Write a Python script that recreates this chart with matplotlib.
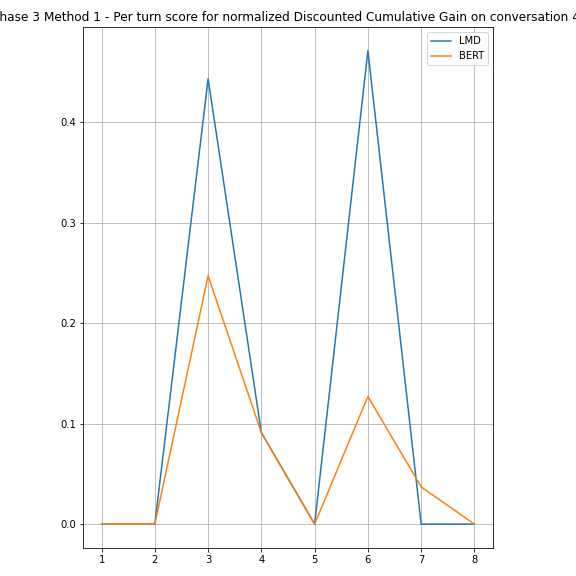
"""Per turn nDCG scores for conversation 4, LMD vs BERT."""
import matplotlib.pyplot as plt

turns = [1, 2, 3, 4, 5, 6, 7, 8]
lmd_scores = [0.0, 0.0, 0.443, 0.091, 0.0, 0.471, 0.0, 0.0]
bert_scores = [0.0, 0.0, 0.247, 0.091, 0.0, 0.127, 0.037, 0.0]

title = ("Phase 3 Method 1 - Per turn score for normalized "
         "Discounted Cumulative Gain on conversation 4")

fig, ax = plt.subplots(figsize=(8, 8), dpi=72)
ax.plot(turns, lmd_scores, label="LMD")
ax.plot(turns, bert_scores, label="BERT")
ax.set_title(title, fontsize=12.1, x=0.494)
ax.grid(True)
ax.legend(loc="upper right")
fig.subplots_adjust(left=0.144, right=0.856, bottom=0.049, top=0.953)
fig.savefig("out.png", dpi=72)
plt.close(fig)
